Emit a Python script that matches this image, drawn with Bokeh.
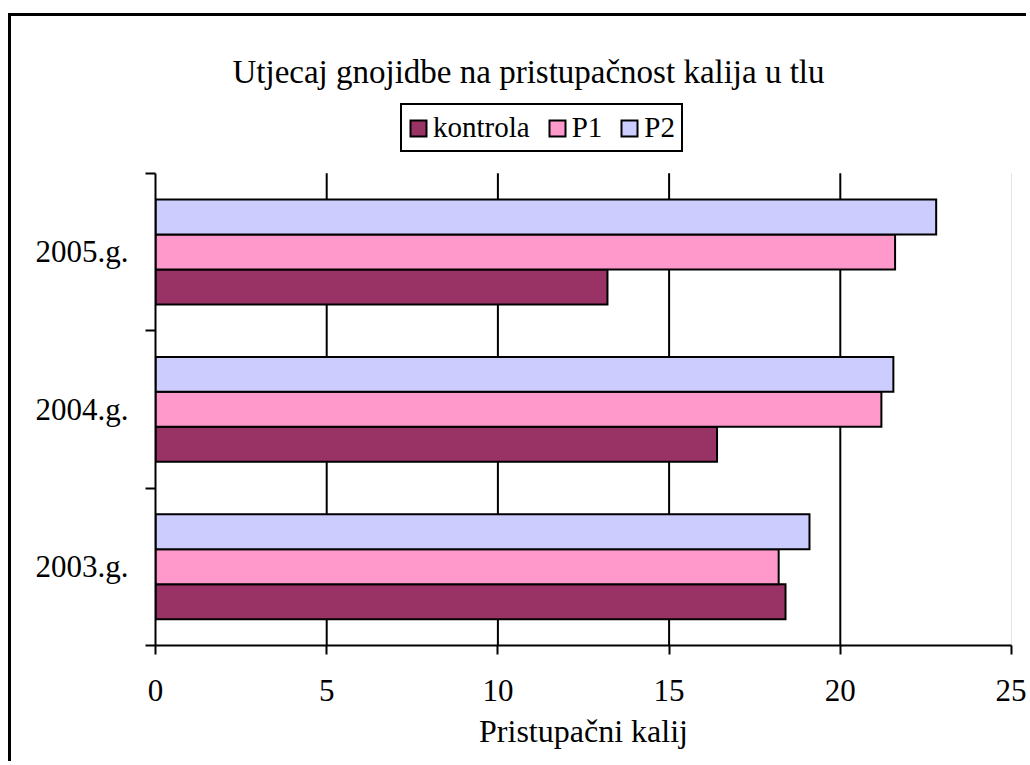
from bokeh.plotting import figure
from bokeh.models import FixedTicker, Legend, LegendItem
from bokeh.embed import file_html
from bokeh.resources import INLINE

# ---- data ----
years = ["2003.g.", "2004.g.", "2005.g."]
kontrola = [18.4, 16.4, 13.2]
p1 = [18.2, 21.2, 21.6]
p2 = [19.1, 21.55, 22.8]
series_names = ["kontrola", "P1", "P2"]
series_colors = ["#993366", "#FF99CC", "#CCCCFF"]
x_ticks = [0, 5, 10, 15, 20, 25]
grid_ticks = [5, 10, 15, 20]
title_text = "Utjecaj gnojidbe na pristupačnost kalija u tlu"
x_label = "Pristupačni kalij"

FONT = "Liberation Serif"
bar_h = 2.0 / 9.0  # gap width 50%
n = len(years)

# frame extends above the category area to hold the legend
p = figure(width=1018, height=748, x_range=(0, 25), y_range=(0, n + 0.5),
           output_backend="svg", toolbar_location=None,
           min_border_left=144, min_border_right=18,
           min_border_top=78, min_border_bottom=119)
p.styles = {"border-left": "3px solid black", "border-top": "3px solid black",
            "margin-top": "13px", "margin-left": "8px"}
p.outline_line_color = None
p.background_fill_color = "white"
p.border_fill_color = "white"

# title
p.title.text = title_text
p.title.text_font = FONT
p.title.text_font_size = "33px"
p.title.text_font_style = "normal"
p.title.text_color = "black"
p.title.align = "left"
p.title.offset = 77
p.title.standoff = 9

# vertical grid lines limited to the category area
p.xgrid.visible = False
p.ygrid.visible = False
p.segment(x0=grid_ticks, y0=[0] * len(grid_ticks), x1=grid_ticks, y1=[n] * len(grid_ticks),
          line_color="black", line_width=2, level="underlay")
p.segment(x0=[x_ticks[-1]], y0=[0], x1=[x_ticks[-1]], y1=[n],
          line_color="#c8c8c8", line_width=1, level="underlay")

# bars
renderers = []
for j, (name, vals, col) in enumerate(zip(series_names, [kontrola, p1, p2], series_colors)):
    ys = [i + 0.5 + (j - 1) * bar_h for i in range(n)]
    r = p.hbar(y=ys, left=0, right=vals, height=bar_h, fill_color=col,
               line_color="black", line_width=2, line_join="miter")
    renderers.append((name, r))

# x axis
p.xaxis.ticker = FixedTicker(ticks=x_ticks)
p.xaxis.axis_line_width = 2
p.xaxis.axis_line_color = "black"
p.xaxis.major_tick_line_width = 2
p.xaxis.major_tick_out = 9
p.xaxis.major_tick_in = 0
p.xaxis.minor_tick_line_color = None
p.xaxis.major_label_text_font = FONT
p.xaxis.major_label_text_font_size = "31px"
p.xaxis.major_label_text_color = "black"
p.xaxis.major_label_standoff = 25
p.xaxis.axis_label = x_label
p.xaxis.axis_label_text_font = FONT
p.xaxis.axis_label_text_font_size = "32px"
p.xaxis.axis_label_text_font_style = "normal"
p.xaxis.axis_label_text_color = "black"
p.xaxis.axis_label_standoff = 9

# y axis
p.yaxis.bounds = (0, n)
p.yaxis.ticker = FixedTicker(ticks=[i + 0.5 for i in range(n)],
                             minor_ticks=list(range(n + 1)))
p.yaxis.major_label_overrides = {i + 0.5: y for i, y in enumerate(years)}
p.yaxis.axis_line_width = 2
p.yaxis.axis_line_color = "black"
p.yaxis.major_tick_line_color = None
p.yaxis.major_tick_out = 0
p.yaxis.major_tick_in = 0
p.yaxis.minor_tick_line_width = 2
p.yaxis.minor_tick_line_color = "black"
p.yaxis.minor_tick_out = 10
p.yaxis.minor_tick_in = 0
p.yaxis.major_label_text_font = FONT
p.yaxis.major_label_text_font_size = "31px"
p.yaxis.major_label_text_color = "black"
p.yaxis.major_label_standoff = 17

# legend (inside the extended frame, above the bars)
legend = Legend(items=[LegendItem(label=s, renderers=[r]) for s, r in renderers],
                orientation="horizontal", location=(245, 493))
legend.label_text_font = FONT
legend.label_text_font_size = "29px"
legend.label_text_color = "black"
legend.border_line_color = "black"
legend.border_line_width = 2
legend.border_line_alpha = 1
legend.background_fill_color = "white"
legend.background_fill_alpha = 1
legend.glyph_width = 20
legend.glyph_height = 20
legend.padding = 6
legend.spacing = 17
legend.label_standoff = 5
legend.margin = 0
p.add_layout(legend)

open("out.html", "w").write(file_html(p, INLINE))
